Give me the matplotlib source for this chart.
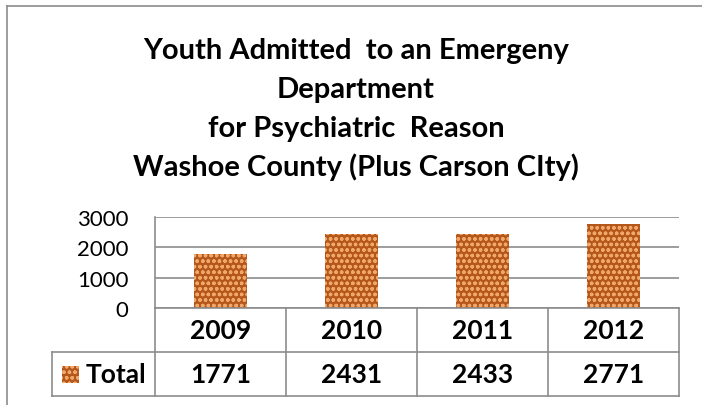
import numpy as np
import matplotlib
matplotlib.use("Agg")
import matplotlib.pyplot as plt
from matplotlib.patches import Rectangle

# data
years = ["2009", "2010", "2011", "2012"]
totals = [1771, 2431, 2433, 2771]
series_name = "Total"
title_lines = ["Youth Admitted  to an Emergeny",
               "Department",
               "for Psychiatric  Reason",
               "Washoe County (Plus Carson CIty)"]
yticks = [0, 1000, 2000, 3000]

W, H = 702, 406
bar_face = "#B5561A"
bar_dots = "#EFA86A"
line_col = "#8C8C8C"

plt.rcParams['font.family'] = ['Lato', 'DejaVu Sans']
plt.rcParams['hatch.linewidth'] = 1.0

fig = plt.figure(figsize=(W/100, H/100), dpi=100)

def box(left, top, right, bottom):
    # pixel box -> figure fraction rect
    return [left/W, 1 - bottom/H, (right-left)/W, (bottom-top)/H]

# outer chart border (only left & top visible in crop)
fig.add_artist(plt.Line2D([7/W, 7/W], [0, 1 - 7/H], color=line_col, lw=1.2))
fig.add_artist(plt.Line2D([7/W, 1], [1 - 7/H, 1 - 7/H], color=line_col, lw=1.2))

# title
base_y = [59, 98, 137, 176]
for txt, by in zip(title_lines, base_y):
    fig.text(356/W, 1 - by/H, txt, ha="center", va="baseline",
             fontsize=21, fontweight="bold", color="black")

# bars
ax = fig.add_axes(box(155, 218, 679, 309))
x = np.arange(len(years))
ax.bar(x, totals, width=0.405, color=bar_face, edgecolor=bar_dots,
       hatch="ooo", linewidth=0, zorder=3)
ax.set_xlim(-0.5, len(years) - 0.5)
ax.set_ylim(0, 3000)
ax.set_yticks(yticks)
ax.set_yticklabels([str(t) for t in yticks], fontsize=16)
ax.tick_params(axis="y", length=0, pad=19)
ax.set_xticks([])
ax.yaxis.grid(True, color=line_col, lw=1.2)
ax.set_axisbelow(True)
for s in ["top", "right", "bottom"]:
    ax.spines[s].set_visible(False)
ax.spines["left"].set_color(line_col)
ax.spines["left"].set_linewidth(1.2)

# data table under the bars
tax = fig.add_axes(box(155, 309, 679, 397))
tax.set_xlim(-0.5, len(years) - 0.5)
tax.set_ylim(2, 0)
tax.axis("off")
ext = (52 - 155) / (679 - 155)  # left edge of the legend cell, axes fraction
kw = dict(color=line_col, lw=1.2, clip_on=False)
tax.plot([-0.5, len(years) - 0.5], [0, 0], **kw)
for fy in [0.5, 0.0]:
    tax.plot([ext, 1], [fy, fy], transform=tax.transAxes, **kw)
for i in range(len(years) + 1):
    tax.plot([i - 0.5, i - 0.5], [0, 2], **kw)
tax.plot([ext, ext], [0, 0.5], transform=tax.transAxes, **kw)

for i, (yr, v) in enumerate(zip(years, totals)):
    tax.text(i, 0.5, yr, ha="center", va="center", fontsize=19, fontweight="bold")
    tax.text(i, 1.5, str(v), ha="center", va="center", fontsize=19, fontweight="bold")

# legend key + series name in the table
key_l = (62 - 155) / (679 - 155)
key_w = 17 / (679 - 155)
key_h = 17 / (397 - 309)
tax.add_patch(Rectangle((key_l, 0.25 - key_h/2), key_w, key_h,
                        transform=tax.transAxes, facecolor=bar_face,
                        edgecolor=bar_dots, hatch="ooo", lw=0, clip_on=False))
tax.text((86 - 155) / (679 - 155), 0.25, series_name, transform=tax.transAxes,
         ha="left", va="center", fontsize=19, fontweight="bold")

fig.savefig("out.png", dpi=100)
